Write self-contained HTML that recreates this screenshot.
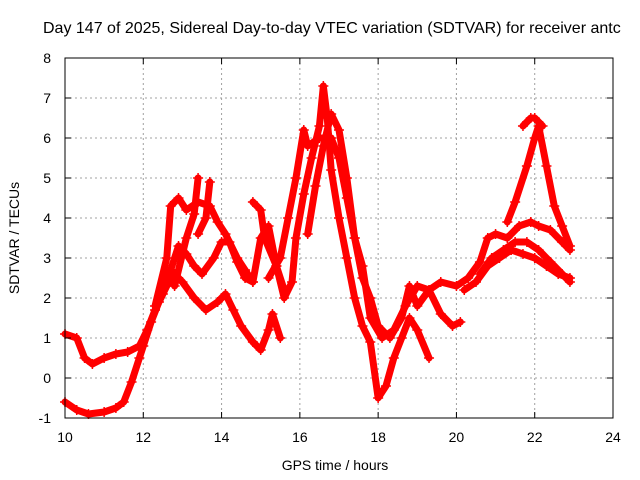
<!DOCTYPE html>
<html><head><meta charset="utf-8"><style>
body{margin:0;background:#fff}
svg{display:block;font-family:"Liberation Sans",sans-serif}
</style></head><body>
<svg id="chart" width="640" height="480" viewBox="0 0 640 480">
<rect width="640" height="480" fill="#fff"/>
<text x="43" y="33" font-size="16" fill="#000">Day 147 of 2025, Sidereal Day-to-day VTEC variation (SDTVAR) for receiver antc</text>
<g id="grid"></g>
<g id="series"></g>
<rect x="65" y="58" width="548" height="360" fill="none" stroke="#000" stroke-width="1"/>
<g id="axes"></g>
<text x="335" y="470" font-size="14" text-anchor="middle">GPS time / hours</text>
<text transform="translate(19,238) rotate(-90)" font-size="14" text-anchor="middle">SDTVAR / TECUs</text>
</svg>
<script>
const xTicks=[10,12,14,16,18,20,22,24];
const yTicks=[-1,0,1,2,3,4,5,6,7,8];
const traceA=[[10.0,-0.6],[10.3,-0.8],[10.6,-0.9],[11.0,-0.85],[11.3,-0.75],[11.5,-0.6],[11.7,-0.1],[11.9,0.5],[12.0,0.8],[12.2,1.4],[12.4,1.9],[12.6,2.3],[12.8,2.6],[13.0,2.4],[13.3,2.0],[13.6,1.7],[13.9,1.9],[14.1,2.1],[14.3,1.7],[14.5,1.3],[14.8,0.9],[15.0,0.7],[15.2,1.2],[15.3,1.6],[15.5,1.0]];
const traceB=[[10.0,1.1],[10.3,1.0],[10.5,0.5],[10.7,0.35],[11.0,0.5],[11.3,0.6],[11.6,0.65],[11.9,0.8],[12.1,1.2],[12.3,1.7],[12.5,2.1],[12.7,2.7],[12.9,3.3],[13.1,3.1],[13.3,2.8],[13.5,2.6],[13.8,3.0],[14.0,3.4],[14.2,3.4],[14.4,2.9],[14.6,2.5],[14.8,2.4],[15.0,3.5],[15.2,3.8],[15.4,2.8],[15.6,2.2]];
const traceC=[[12.3,1.8],[12.6,3.0],[12.7,4.3],[12.9,4.5],[13.1,4.2],[13.4,4.4],[13.7,4.3],[13.9,3.9],[14.1,3.6],[14.4,3.0],[14.6,2.7],[14.8,2.4]];
const traceD=[[12.8,2.3],[13.1,3.5],[13.3,4.1],[13.4,5.0]];
const traceD2=[[13.4,3.6],[13.6,4.0],[13.7,4.9]];
const traceE=[[14.8,4.4],[15.0,4.2],[15.1,3.5],[15.4,2.8],[15.6,2.0],[15.8,2.4],[15.9,3.5],[16.1,4.6],[16.3,5.5],[16.5,6.3],[16.6,7.3],[16.7,6.5],[16.8,5.2],[17.0,4.0],[17.2,3.0],[17.4,2.0],[17.6,1.3],[17.8,0.9],[18.0,-0.5],[18.2,-0.2],[18.4,0.5],[18.6,1.0],[18.8,1.5],[19.0,1.2],[19.3,0.5]];
const traceF=[[15.2,2.5],[15.5,3.0],[15.7,4.0],[15.9,5.0],[16.1,6.2],[16.2,5.8],[16.5,6.0],[16.8,6.0],[17.0,5.5],[17.2,4.5],[17.4,3.5],[17.6,2.5],[17.8,2.0],[18.0,1.3],[18.3,1.0],[18.6,1.5],[18.8,2.3],[19.0,1.8],[19.3,2.2],[19.6,1.6],[19.9,1.3],[20.1,1.4]];
const traceG=[[16.2,3.6],[16.4,4.8],[16.6,5.8],[16.8,6.6],[17.0,6.2],[17.2,5.0],[17.4,3.5],[17.6,2.8],[17.8,1.5],[18.1,1.0],[18.4,1.2],[18.7,1.8],[19.0,2.3],[19.3,2.2],[19.6,2.4],[20.0,2.3],[20.3,2.5],[20.6,2.9],[20.8,3.5],[21.0,3.6],[21.3,3.5],[21.6,3.8],[21.9,3.9],[22.1,3.8],[22.4,3.7],[22.7,3.4],[22.9,3.2]];
const traceH=[[20.2,2.2],[20.5,2.4],[20.8,2.8],[21.1,3.0],[21.4,3.2],[21.7,3.1],[22.0,3.0],[22.3,2.8],[22.6,2.6],[22.9,2.5]];
const traceI=[[20.6,2.6],[20.9,3.0],[21.2,3.2],[21.5,3.4],[21.8,3.4],[22.1,3.2],[22.4,2.9],[22.7,2.6],[22.9,2.4]];
const traceJ=[[21.3,3.9],[21.5,4.4],[21.8,5.3],[22.0,6.0],[22.1,6.3],[22.3,5.3],[22.5,4.3],[22.7,3.8],[22.9,3.3]];
const traceK=[[21.7,6.3],[21.9,6.5],[22.0,6.5],[22.2,6.3]];
const traces=[traceA,traceB,traceC,traceD,traceD2,traceE,traceF,traceG,traceH,traceI,traceJ,traceK];
const NS="http://www.w3.org/2000/svg";
const X0=65,X1=613,Y0=418,Y1=58;
function xs(v){return X0+(v-10)/(24-10)*(X1-X0);}
function ys(v){return Y0-(v+1)/(8+1)*(Y0-Y1);}
function mk(t,a){const e=document.createElementNS(NS,t);for(const k in a)e.setAttribute(k,a[k]);return e;}
const grid=document.getElementById('grid'),axes=document.getElementById('axes'),ser=document.getElementById('series');
xTicks.forEach(t=>{
  const x=xs(t);
  if(t>10&&t<24){const g=mk('line',{x1:x,x2:x,y1:Y1,y2:Y0,stroke:'#a0a0a0','stroke-dasharray':'2,3'});
  
  grid.appendChild(g);}
  const l=mk('text',{x:x,y:Y0+24,'font-size':14,'text-anchor':'middle'});l.textContent=t;
  
  axes.appendChild(l);
  axes.appendChild(mk('line',{x1:x,x2:x,y1:Y0,y2:Y0-6,stroke:'#000'}));
  axes.appendChild(mk('line',{x1:x,x2:x,y1:Y1,y2:Y1+6,stroke:'#000'}));
});
yTicks.forEach(t=>{
  const y=ys(t);
  if(t>-1&&t<8){const g=mk('line',{x1:X0,x2:X1,y1:y,y2:y,stroke:'#a0a0a0','stroke-dasharray':'2,3'});
  
  grid.appendChild(g);}
  const l=mk('text',{x:X0-14,y:y+5,'font-size':14,'text-anchor':'end'});l.textContent=t;
  
  axes.appendChild(l);
  axes.appendChild(mk('line',{x1:X0,x2:X0+6,y1:y,y2:y,stroke:'#000'}));
  axes.appendChild(mk('line',{x1:X1,x2:X1-6,y1:y,y2:y,stroke:'#000'}));
});
traces.forEach((tr,i)=>{
  const g=mk('g',{});
  
  
  const pl=mk('polyline',{points:tr.map(p=>xs(p[0])+','+ys(p[1])).join(' '),fill:'none',stroke:'#f00','stroke-width':7,'stroke-linejoin':'round','stroke-linecap':'round'});
  g.appendChild(pl);
  tr.forEach(p=>{
    const x=xs(p[0]),y=ys(p[1]);
    const m=mk('path',{d:`M${x-5},${y}H${x+5}M${x},${y-5}V${y+5}`,stroke:'#f00','stroke-width':1.5});
    
    
    g.appendChild(m);
  });
  ser.appendChild(g);
});
</script>
</body></html>
